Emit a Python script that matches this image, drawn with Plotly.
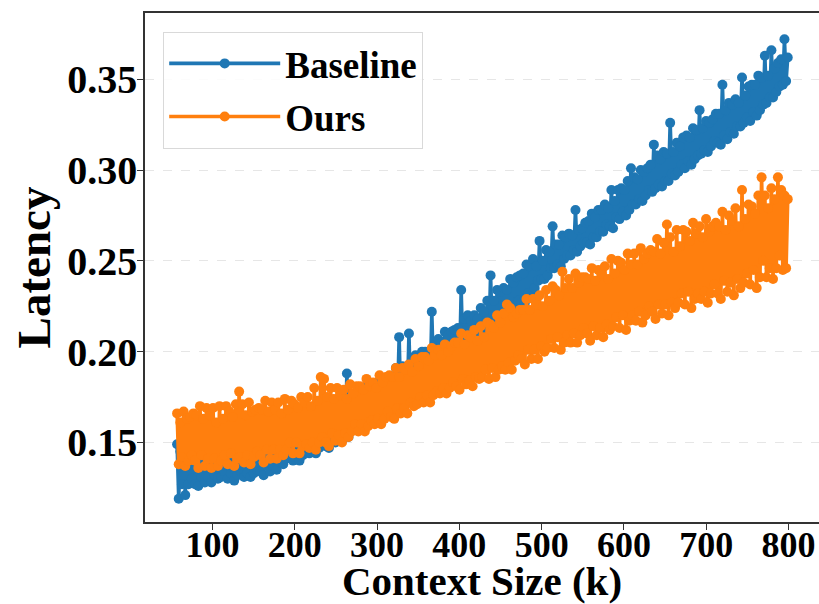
import numpy as np
import plotly.graph_objects as go

# Context sizes (k) of the samples, evenly spaced from ~57k to ~799k
context_k = np.linspace(57, 799, 375)

baseline_latency = [
    .149,.119,.145,.127,.152,.121,.148,.127,.150,.130,
    .148,.127,.147,.126,.152,.131,.147,.128,.151,.131,
    .147,.128,.150,.132,.146,.130,.152,.131,.148,.134,
    .151,.130,.150,.133,.148,.129,.153,.132,.149,.134,
    .153,.131,.149,.133,.154,.131,.151,.133,.152,.135,
    .154,.134,.153,.132,.158,.137,.153,.134,.157,.137,
    .156,.135,.159,.139,.155,.138,.162,.141,.158,.144,
    .161,.140,.160,.144,.159,.140,.164,.143,.161,.145,
    .164,.144,.162,.147,.167,.144,.165,.147,.166,.150,
    .166,.148,.166,.147,.170,.152,.166,.150,.170,.153,
    .168,.151,.172,.155,.188,.153,.176,.157,.172,.160,
    .176,.157,.176,.161,.175,.158,.181,.161,.178,.163,
    .181,.163,.179,.166,.184,.164,.182,.167,.184,.170,
    .186,.168,.186,.167,.191,.173,.208,.171,.192,.174,
    .190,.173,.210,.177,.191,.176,.198,.179,.194,.182,
    .200,.179,.200,.184,.200,.181,.222,.188,.204,.187,
    .207,.187,.205,.191,.211,.189,.209,.192,.211,.196,
    .212,.194,.213,.194,.234,.199,.218,.198,.220,.202,
    .217,.201,.220,.205,.218,.205,.224,.207,.222,.210,
    .228,.208,.242,.212,.228,.211,.234,.215,.233,.218,
    .235,.218,.234,.222,.240,.221,.238,.224,.241,.228,
    .242,.227,.243,.227,.248,.232,.247,.231,.251,.235,
    .247,.239,.261,.240,.250,.240,.256,.242,.255,.246,
    .269,.246,.259,.248,.259,.247,.264,.251,.263,.253,
    .265,.253,.264,.256,.278,.255,.267,.258,.268,.260,
    .271,.260,.272,.259,.276,.263,.274,.263,.278,.266,
    .278,.266,.281,.270,.279,.269,.289,.268,.283,.274,
    .289,.273,.290,.277,.289,.275,.294,.278,.301,.281,
    .296,.281,.295,.284,.300,.283,.299,.286,.301,.289,
    .303,.288,.314,.290,.308,.292,.306,.291,.310,.294,
    .309,.294,.326,.298,.310,.297,.315,.299,.313,.303,
    .318,.301,.319,.305,.318,.303,.323,.306,.322,.308,
    .333,.309,.323,.311,.327,.310,.326,.313,.328,.316,
    .331,.315,.331,.314,.347,.319,.333,.317,.337,.321,
    .336,.320,.339,.324,.337,.324,.351,.326,.341,.329,
    .346,.327,.347,.332,.347,.330,.352,.333,.351,.336,
    .363,.337,.352,.340,.366,.340,.356,.343,.359,.346,
    .361,.347,.372,.349,.362,
]

ours_latency = [
    .166,.138,.161,.142,.167,.137,.163,.140,.164,.143,
    .166,.140,.165,.136,.170,.143,.163,.137,.169,.141,
    .165,.136,.169,.141,.161,.137,.170,.140,.163,.143,
    .170,.138,.167,.144,.164,.137,.171,.141,.178,.142,
    .171,.139,.165,.143,.172,.138,.167,.142,.168,.145,
    .169,.143,.168,.139,.173,.146,.167,.141,.172,.146,
    .168,.141,.172,.146,.166,.143,.174,.146,.168,.150,
    .173,.144,.171,.150,.169,.144,.175,.148,.172,.149,
    .175,.147,.170,.150,.180,.146,.173,.150,.186,.153,
    .185,.150,.175,.148,.180,.155,.174,.151,.180,.154,
    .176,.150,.179,.155,.174,.153,.182,.156,.177,.160,
    .181,.156,.181,.160,.179,.156,.185,.159,.181,.162,
    .183,.160,.180,.163,.187,.160,.183,.163,.186,.167,
    .187,.164,.186,.163,.191,.169,.186,.166,.191,.169,
    .190,.166,.193,.172,.189,.170,.196,.171,.192,.175,
    .197,.172,.197,.176,.195,.172,.202,.176,.198,.178,
    .201,.177,.198,.180,.204,.177,.200,.180,.203,.183,
    .205,.181,.205,.179,.210,.185,.204,.182,.209,.184,
    .208,.181,.212,.186,.206,.185,.214,.186,.208,.190,
    .216,.185,.215,.191,.213,.186,.220,.190,.216,.192,
    .221,.190,.226,.194,.224,.190,.219,.195,.221,.198,
    .223,.196,.223,.193,.229,.201,.223,.196,.229,.201,
    .226,.196,.231,.203,.225,.200,.234,.202,.228,.207,
    .236,.202,.234,.208,.231,.201,.244,.205,.235,.209,
    .240,.205,.235,.210,.243,.205,.238,.209,.241,.213,
    .241,.210,.240,.206,.246,.214,.239,.209,.245,.213,
    .243,.208,.247,.215,.240,.212,.251,.214,.243,.219,
    .250,.213,.249,.220,.245,.212,.254,.217,.248,.220,
    .254,.217,.248,.222,.257,.216,.251,.220,.254,.225,
    .256,.222,.255,.218,.262,.226,.254,.221,.260,.226,
    .270,.220,.263,.227,.255,.224,.267,.227,.258,.232,
    .267,.226,.266,.233,.261,.224,.271,.229,.265,.232,
    .269,.229,.263,.233,.273,.227,.266,.232,.269,.237,
    .271,.232,.269,.229,.277,.239,.267,.233,.275,.238,
    .272,.231,.279,.240,.269,.235,.289,.238,.273,.243,
    .281,.237,.280,.245,.276,.235,.286,.241,.296,.250,
    .286,.241,.279,.246,.290,.240,.284,.246,.296,.253,
    .289,.245,.286,.246,.284,
]

x_ticks = [100, 200, 300, 400, 500, 600, 700, 800]
y_ticks = [0.15, 0.20, 0.25, 0.30, 0.35]
y_tick_text = ["0.15", "0.20", "0.25", "0.30", "0.35"]

BLUE = "#1f77b4"
ORANGE = "#ff7f0e"
FONT = "Liberation Serif, Times New Roman, serif"

fig = go.Figure()
fig.add_trace(go.Scatter(
    x=context_k, y=baseline_latency, name="Baseline", mode="lines+markers",
    legendgroup="b",
    line=dict(color=BLUE, width=3.6, simplify=False), marker=dict(color=BLUE, size=10),
))
fig.add_trace(go.Scatter(
    x=context_k, y=ours_latency, name="Ours", mode="lines+markers",
    legendgroup="o",
    line=dict(color=ORANGE, width=3.6, simplify=False), marker=dict(color=ORANGE, size=10),
))

axis_common = dict(
    showline=True, linecolor="#333333", linewidth=1.5, mirror=True,
    ticks="outside", ticklen=6, tickwidth=1.2, tickcolor="#333333",
    zeroline=False, automargin=False,
)

fig.update_xaxes(
    range=[18, 837], tickvals=x_ticks, showgrid=False, ticklabelstandoff=-16,
    tickfont=dict(family=FONT, size=36, color="black", weight="bold"),
    title=dict(text="Context Size (k)", standoff=1,
               font=dict(family=FONT, size=41, color="black", weight="bold")),
    **axis_common,
)
fig.update_yaxes(
    range=[0.1062, 0.3865], tickvals=y_ticks, ticktext=y_tick_text,
    showgrid=True, gridcolor="#e6e6e6", griddash="dash", gridwidth=1,
    ticklabelstandoff=-8,
    tickfont=dict(family=FONT, size=40, color="black", weight="bold"),
    title=dict(text="Latency", standoff=2,
               font=dict(family=FONT, size=47, color="black", weight="bold")),
    **axis_common,
)

fig.update_layout(
    template="none",
    width=819, height=604,
    margin=dict(l=145, r=0, t=13, b=82),
    paper_bgcolor="white", plot_bgcolor="white",
    showlegend=True,
    legend=dict(
        x=0.027, y=0.963, xanchor="left", yanchor="top",
        bgcolor="rgba(255,255,255,0.85)", bordercolor="#d9d9d9", borderwidth=1,
        font=dict(family=FONT, size=37, color="black", weight="bold"),
        itemwidth=111, tracegroupgap=2,
    ),
)

fig.write_html(
    "out.html",
    config={"displayModeBar": False},
    post_script="document.body.style.margin='0';document.body.style.overflow='hidden';",
)
